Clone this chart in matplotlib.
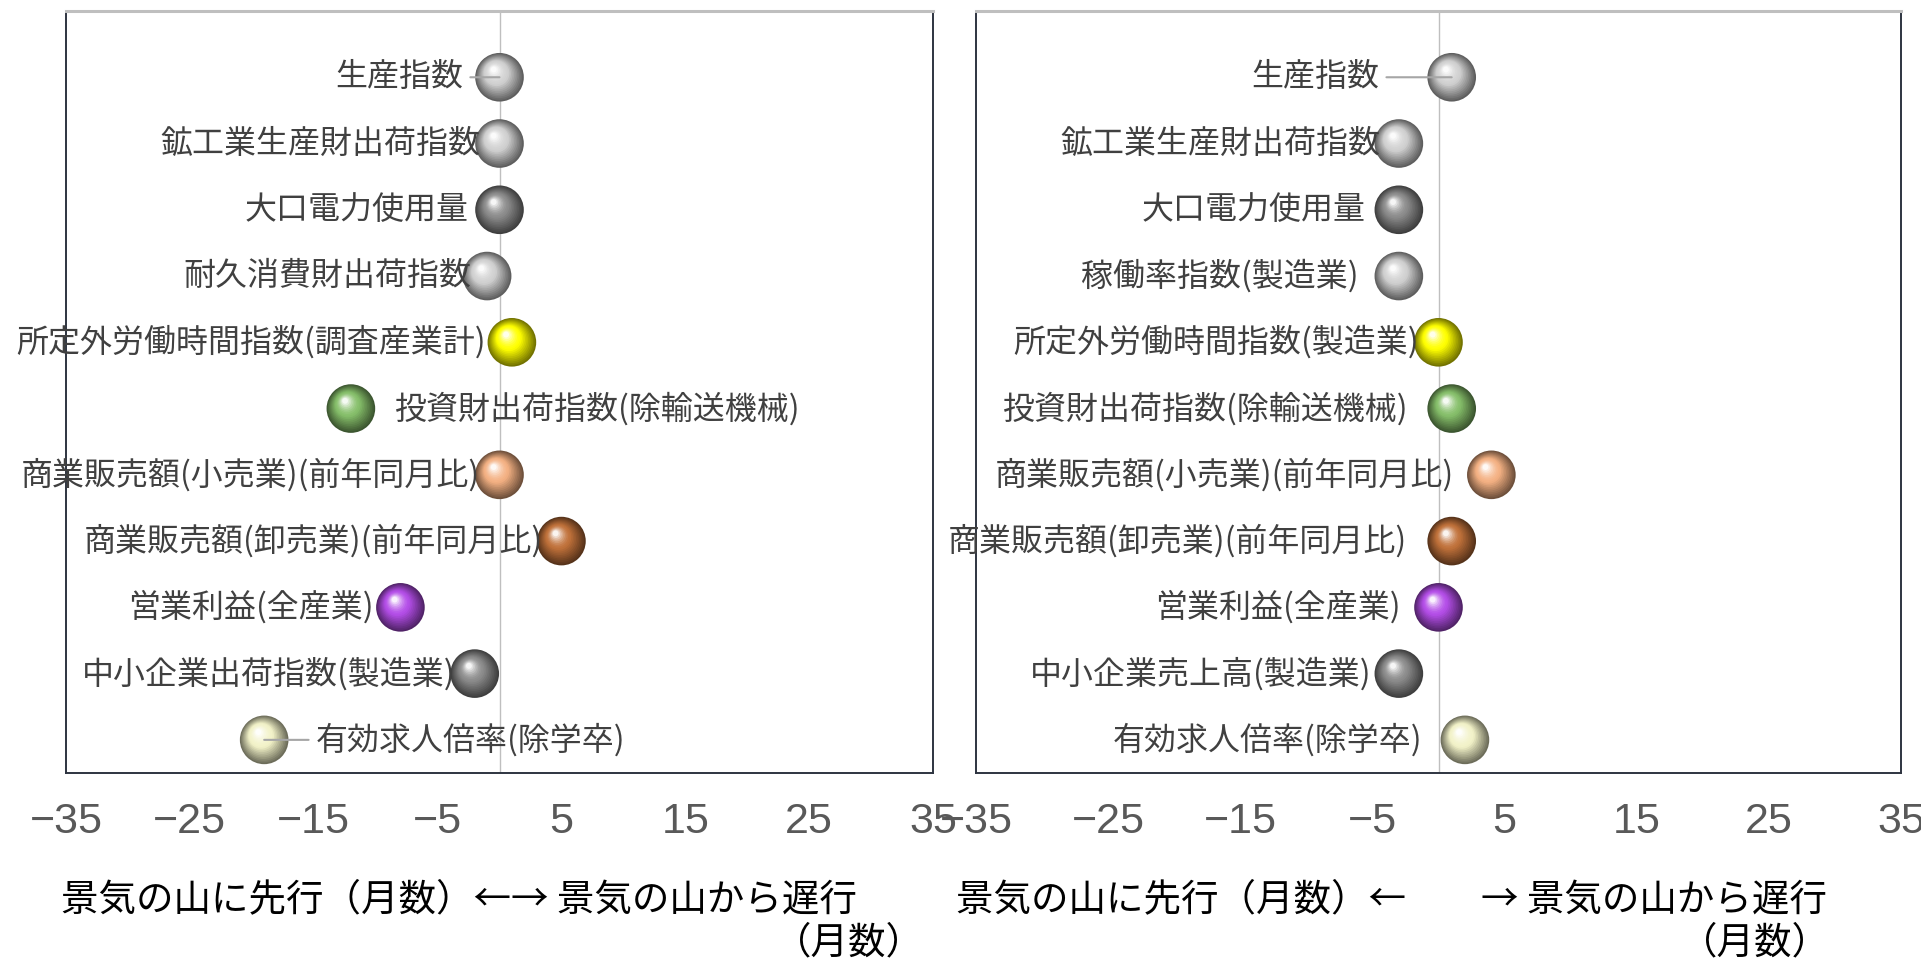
import numpy as np
import matplotlib
matplotlib.use("Agg")
import matplotlib.pyplot as plt
from matplotlib import transforms

plt.rcParams['font.family'] = ['Noto Sans CJK JP', 'DejaVu Sans']

# データ（景気の山からのずれ、月数）
left_labels = ['生産指数', '鉱工業生産財出荷指数', '大口電力使用量', '耐久消費財出荷指数',
               '所定外労働時間指数(調査産業計)', '投資財出荷指数(除輸送機械)',
               '商業販売額(小売業)(前年同月比)', '商業販売額(卸売業)(前年同月比)',
               '営業利益(全産業)', '中小企業出荷指数(製造業)', '有効求人倍率(除学卒)']
left_values = [0, 0, 0, -1, 1, -12, 0, 5, -8, -2, -19]

right_labels = ['生産指数', '鉱工業生産財出荷指数', '大口電力使用量', '稼働率指数(製造業)',
                '所定外労働時間指数(製造業)', '投資財出荷指数(除輸送機械)',
                '商業販売額(小売業)(前年同月比)', '商業販売額(卸売業)(前年同月比)',
                '営業利益(全産業)', '中小企業売上高(製造業)', '有効求人倍率(除学卒)']
right_values = [1, -3, -3, -3, 0, 1, 4, 1, 0, -3, 2]

# 系列ごとの球の色
ball_colors = ['#d0d0d0', '#d0d0d0', '#8c8c8c', '#d0d0d0', '#ffff00', '#86bf6a',
               '#f4b183', '#c0713a', '#b44ee8', '#8c8c8c', '#f2f2c8']

xticks = [-35, -25, -15, -5, 5, 15, 25, 35]
ypos = np.arange(11, 0, -1)

# ラベルの配置（点の中心からの横方向オフセット、pt）と引き出し線
left_offsets = [-26, -14, -22, -11, -19, 31, -14, -13, -19, -14, 37]
left_leader = [True, False, False, False, False, False, False, False, False, False, True]
right_offsets = [-52, -13, -24, -29, -14, -32, -27, -32, -27, -20, -31]
right_leader = [True] + [False] * 10


def shade(base, t):
    base = np.array(matplotlib.colors.to_rgb(base))
    if t < 0.55:
        return base * (0.45 + 0.55 * t / 0.55)
    w = ((t - 0.55) / 0.45) ** 1.6 * 0.92
    return base + (1 - base) * w


def draw_balls(ax, fig, xs, ys, colors, diam=35):
    n = 18
    for k in range(n):
        t = k / (n - 1)
        d = diam * (1 - 0.88 * t)
        shift = (diam - d) / 2 * 0.45
        tr = transforms.offset_copy(ax.transData, fig=fig, x=-0.6 * shift,
                                    y=0.8 * shift, units='points')
        cols = [shade(c, t) for c in colors]
        ax.scatter(xs, ys, s=d ** 2, c=cols, transform=tr, linewidths=0,
                   zorder=3 + k * 0.01, clip_on=False)


def panel(ax, fig, labels, values, offsets, leaders):
    ax.set_xlim(-35, 35)
    ax.set_ylim(0.5, 12.0)
    ax.axvline(0, color='#bfbfbf', lw=1.0, zorder=1)
    draw_balls(ax, fig, values, ypos, ball_colors)
    for lab, v, y, off, ld in zip(labels, values, ypos, offsets, leaders):
        ha = 'right' if off < 0 else 'left'
        kw = {}
        if ld:
            kw['arrowprops'] = dict(arrowstyle='-', color='#a6a6a6', lw=1.5,
                                    shrinkA=3, shrinkB=0)
        ax.annotate(lab, xy=(v, y), xytext=(off, 0), textcoords='offset points',
                    ha=ha, va='center', fontsize=23, color='#404040',
                    zorder=6, **kw)
    ax.set_xticks(xticks)
    ax.set_yticks([])
    ax.tick_params(axis='x', length=0, pad=21, labelsize=31, labelcolor='#595959')
    for t in ax.get_xticklabels():
        t.set_fontfamily(['Liberation Sans Narrow', 'Liberation Sans', 'DejaVu Sans'])
    for side in ['left', 'right', 'bottom']:
        ax.spines[side].set_color('#2e3440')
        ax.spines[side].set_linewidth(1.4)
    ax.spines['top'].set_color('#bfbfbf')
    ax.spines['top'].set_linewidth(2.2)


fig = plt.figure(figsize=(19.21, 9.6), dpi=100)
ax1 = fig.add_axes([0.03436, 0.19479, 0.45133, 0.79375])
ax2 = fig.add_axes([0.50807, 0.19479, 0.48152, 0.79375])

panel(ax1, fig, left_labels, left_values, left_offsets, left_leader)
panel(ax2, fig, right_labels, right_values, right_offsets, right_leader)

fig.text(61 / 1921, 1 - 900 / 960, '景気の山に先行（月数）←→ 景気の山から遅行',
         fontsize=27, va='center', ha='left', color='black')
fig.text(774 / 1921, 1 - 943 / 960, '（月数）', fontsize=27, va='center', ha='left',
         color='black')
fig.text(956 / 1921, 1 - 900 / 960, '景気の山に先行（月数）←　　→ 景気の山から遅行',
         fontsize=27, va='center', ha='left', color='black')
fig.text(1680 / 1921, 1 - 943 / 960, '（月数）', fontsize=27, va='center', ha='left',
         color='black')

fig.savefig('out.png', dpi=100)
